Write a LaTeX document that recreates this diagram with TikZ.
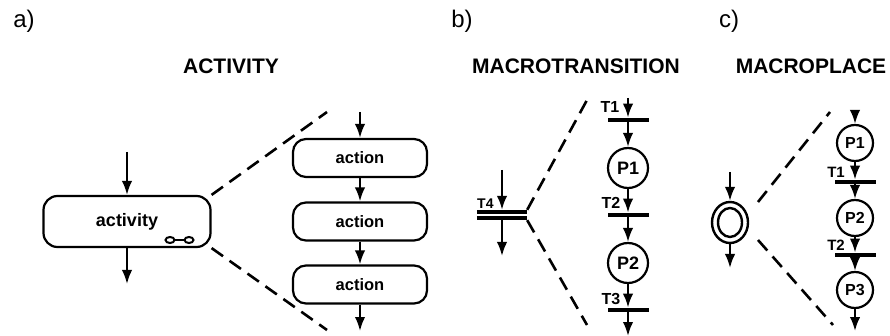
\documentclass[tikz,border=0pt]{standalone}
\usepackage{fontspec}
\setmainfont{Liberation Sans}
\usetikzlibrary{arrows.meta,shapes.geometric}

\newcommand{\fsz}[1]{\fontsize{#1}{#1}\selectfont}

\begin{document}
\begin{tikzpicture}[x=1pt, y=-1pt]
    \tikzset{>={Latex[length=14pt,width=10.5pt]}}
    \tikzset{
        flow/.style={->, line width=2.2pt},
        zoomline/.style={line width=2.6pt, dash pattern=on 14pt off 8pt},
        actbox/.style={draw, line width=2.2pt, rounded corners=13pt, minimum width=134pt, minimum height=38pt, inner sep=0pt, font=\fsz{16.5}\bfseries},
        place/.style={circle, draw, line width=2.2pt, minimum size=40pt, inner sep=0pt, font=\fsz{18}\bfseries},
        trans/.style={fill=black, minimum width=41pt, minimum height=4.5pt, inner sep=0pt},
        tlabel/.style={font=\fsz{16}\bfseries, inner sep=0pt},
        title/.style={font=\fsz{21}\bfseries},
        part/.style={font=\fsz{24}}
    }
    \useasboundingbox (0,0) rectangle (890,336);

    % a) activity
    \node[part] (pa) at (24,21) {a)};
    \node[title] (ta) at (231,66) {ACTIVITY};
    \node[draw, line width=2.2pt, rounded corners=14pt, minimum width=167pt, minimum height=51pt, font=\fsz{18}\bfseries] (act) at (127,221.5) {activity};
    \coordinate (actin) at (127,152);
    \coordinate (actout) at (127,284);
    \draw[flow] (actin) -- (act);
    \draw[flow] (act) -- (actout);
    \draw[line width=2pt] (170,240) ellipse (4.5 and 3) (189,240) ellipse (4.5 and 3);
    \draw[line width=2pt] (174.5,240) -- (184.5,240);

    \node[actbox] (ac1) at (360,158) {action};
    \node[actbox] (ac2) at (360,221.5) {action};
    \node[actbox] (ac3) at (360,284.5) {action};
    \coordinate (acin) at (360,112);
    \coordinate (acout) at (360,331);
    \draw[flow] (acin) -- (ac1);
    \draw[flow] (ac1) -- (ac2);
    \draw[flow] (ac2) -- (ac3);
    \draw[flow] (ac3) -- (acout);

    \coordinate (za1) at (327,112);
    \coordinate (za2) at (327,330);
    \draw[zoomline] (act.north east) -- (za1);
    \draw[zoomline] (act.south east) -- (za2);

    % b) macrotransition
    \node[part] (pb) at (462,21) {b)};
    \node[title] (tb) at (576,66) {MACROTRANSITION};
    \node[minimum width=50pt, minimum height=10pt, inner sep=0pt] (t4) at (502,215) {};
    \draw[line width=4pt] ([yshift=3.2pt]t4.west) -- ([yshift=3.2pt]t4.east);
    \draw[line width=4pt] ([yshift=-3.2pt]t4.west) -- ([yshift=-3.2pt]t4.east);
    \node[tlabel, font=\fsz{14}\bfseries, anchor=south west] (lt4) at (477,208.5) {T4};
    \coordinate (t4in) at (502,170);
    \coordinate (t4out) at (502,256);
    \draw[flow] (t4in) -- (t4.north);
    \draw[flow] (t4.south) -- (t4out);

    \coordinate (mtin) at (628,98);
    \node[trans] (mt1) at (628,120) {};
    \node[place] (mp1) at (628,168) {P1};
    \node[trans] (mt2) at (628,215) {};
    \node[place] (mp2) at (628,263) {P2};
    \node[trans] (mt3) at (628,310) {};
    \coordinate (mtout) at (628,336);
    \node[tlabel] (lt1) at (610,107) {T1};
    \node[tlabel] (lt2) at (611,203) {T2};
    \node[tlabel] (lt3) at (611,299) {T3};
    \draw[flow] (mtin) -- (mt1);
    \draw[flow] (mt1) -- (mp1);
    \draw[flow] (mp1) -- (mt2);
    \draw[flow] (mt2) -- (mp2);
    \draw[flow] (mp2) -- (mt3);
    \draw[flow] (mt3) -- (mtout);

    \coordinate (zb1) at (587,100);
    \coordinate (zb2) at (587,325);
    \draw[zoomline] (t4.north east) -- (zb1);
    \draw[zoomline] (t4.south east) -- (zb2);

    % c) macroplace
    \node[part] (pc) at (729,21) {c)};
    \node[title] (tc) at (811,66) {MACROPLACE};
    \node[ellipse, draw, line width=2.4pt, minimum width=36pt, minimum height=41pt, inner sep=0pt] (mp) at (730,222.5) {};
    \draw[line width=2.4pt] (mp.center) ellipse (12 and 14.5);
    \coordinate (mpin) at (730,172);
    \coordinate (mpout) at (730,268);
    \draw[flow] (mpin) -- (mp);
    \draw[flow] (mp) -- (mpout);

    \coordinate (pcin) at (855,112);
    \node[place, minimum size=36pt, font=\fsz{16}\bfseries] (pp1) at (855,143) {P1};
    \node[trans] (pt1) at (855,182) {};
    \node[place, minimum size=36pt, font=\fsz{16}\bfseries] (pp2) at (855,218) {P2};
    \node[trans] (pt2) at (855,255) {};
    \node[place, minimum size=36pt, font=\fsz{16}\bfseries] (pp3) at (855,290) {P3};
    \coordinate (pcout) at (855,331);
    \node[tlabel, font=\fsz{15}\bfseries] (lp1) at (836,172) {T1};
    \node[tlabel, font=\fsz{15}\bfseries] (lp2) at (836,245) {T2};
    \draw[flow] (pcin) -- (pp1);
    \draw[flow] (pp1) -- (pt1);
    \draw[flow] (pt1) -- (pp2);
    \draw[flow] (pp2) -- (pt2);
    \draw[flow] (pt2) -- (pp3);
    \draw[flow] (pp3) -- (pcout);

    \coordinate (zc0) at (758,202);
    \coordinate (zc3) at (758,240);
    \coordinate (zc1) at (830,112);
    \coordinate (zc2) at (833,325);
    \draw[zoomline] (zc0) -- (zc1);
    \draw[zoomline] (zc3) -- (zc2);
\end{tikzpicture}
\end{document}
